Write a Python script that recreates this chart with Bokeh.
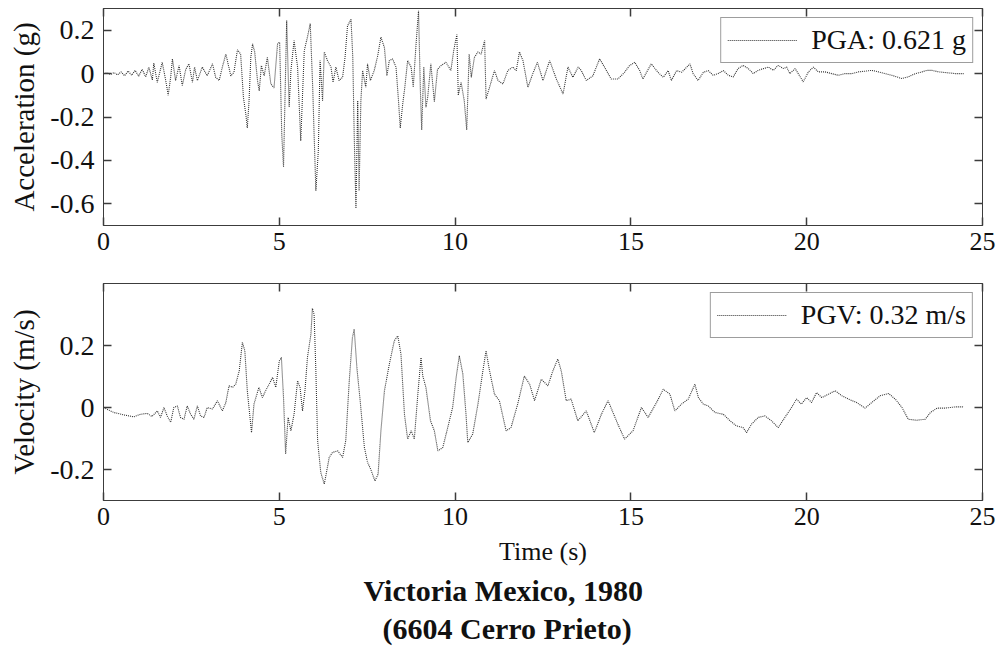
from bokeh.plotting import figure
from bokeh.models import (Range1d, FixedTicker, LinearAxis, Legend, LegendItem, Title,
                          ColumnDataSource, CustomLabelingPolicy)
from bokeh.layouts import column
from bokeh.embed import file_html
from bokeh.resources import INLINE

# ---------------- data ----------------
t_acc = [
    0.00, 0.10, 0.20, 0.30, 0.40, 0.50, 0.60, 0.70, 0.80, 0.90,
    1.00, 1.10, 1.20, 1.29, 1.39, 1.43, 1.53, 1.67, 1.77, 1.84,
    1.91, 1.96, 2.05, 2.15, 2.24, 2.34, 2.43, 2.53, 2.59, 2.67,
    2.81, 2.95, 3.10, 3.19, 3.29, 3.38, 3.48, 3.62, 3.71, 3.81,
    3.90, 3.98, 4.05, 4.09, 4.14, 4.19, 4.24, 4.30, 4.38, 4.43,
    4.49, 4.57, 4.66, 4.76, 4.85, 4.95, 5.01, 5.07, 5.12, 5.21,
    5.28, 5.33, 5.42, 5.52, 5.61, 5.71, 5.80, 5.88, 5.95, 5.99,
    6.04, 6.11, 6.16, 6.23, 6.28, 6.37, 6.47, 6.53, 6.61, 6.70,
    6.80, 6.87, 6.94, 7.04, 7.09, 7.13, 7.18, 7.23, 7.27, 7.32,
    7.37, 7.46, 7.51, 7.59, 7.70, 7.80, 7.89, 7.99, 8.06, 8.13,
    8.22, 8.32, 8.39, 8.44, 8.51, 8.57, 8.65, 8.75, 8.81, 8.89,
    8.96, 9.01, 9.05, 9.11, 9.17, 9.22, 9.31, 9.41, 9.50, 9.60,
    9.74, 9.88, 9.96, 10.05, 10.09, 10.17, 10.26, 10.33, 10.40, 10.46,
    10.55, 10.65, 10.74, 10.84, 10.88, 10.98, 11.12, 11.22, 11.36, 11.50,
    11.64, 11.74, 11.83, 11.93, 12.07, 12.21, 12.34, 12.50, 12.69, 12.88,
    13.07, 13.21, 13.35, 13.50, 13.59, 13.73, 13.92, 14.11, 14.25, 14.44,
    14.63, 14.82, 14.96, 15.11, 15.25, 15.34, 15.58, 15.77, 15.92, 16.06,
    16.15, 16.30, 16.44, 16.53, 16.68, 16.77, 16.91, 17.06, 17.20, 17.34,
    17.48, 17.63, 17.77, 17.91, 18.05, 18.19, 18.34, 18.48, 18.62, 18.77,
    18.91, 19.05, 19.19, 19.34, 19.43, 19.52, 19.67, 19.76, 19.90, 20.05,
    20.19, 20.33, 20.52, 20.71, 20.90, 21.09, 21.28, 21.47, 21.66, 21.85,
    22.04, 22.23, 22.42, 22.56, 22.70, 22.89, 23.09, 23.28, 23.42, 23.56,
    23.75, 23.94, 24.23, 24.47,
]
acc_g = [
    0.000, 0.003, -0.004, 0.005, -0.006, 0.008, -0.010, 0.012, -0.008, 0.015,
    -0.012, 0.020, -0.015, 0.030, -0.030, 0.048, -0.040, 0.052, -0.032, -0.100,
    -0.017, 0.068, -0.032, 0.037, -0.055, 0.020, 0.045, -0.040, 0.030, -0.032,
    0.030, -0.010, 0.045, -0.017, -0.032, 0.030, 0.090, -0.010, 0.006, 0.110,
    0.090, -0.110, -0.190, -0.250, -0.125, 0.075, 0.137, 0.100, -0.032, -0.080,
    0.037, -0.010, 0.075, -0.048, -0.066, 0.137, 0.145, -0.280, -0.430, 0.245,
    -0.155, 0.014, 0.152, 0.030, -0.310, 0.106, 0.168, 0.230, -0.063, -0.280,
    -0.540, -0.355, 0.060, -0.125, 0.100, 0.060, 0.030, -0.040, 0.030, -0.032,
    -0.017, 0.075, 0.220, 0.250, 0.075, -0.280, -0.621, -0.125, -0.540, -0.125,
    0.014, -0.063, 0.045, -0.032, 0.014, 0.083, 0.168, 0.120, -0.010, 0.060,
    0.068, 0.030, -0.125, -0.250, -0.140, -0.063, 0.060, 0.030, -0.063, 0.137,
    0.290, -0.063, -0.260, 0.030, -0.155, -0.110, 0.045, -0.130, 0.020, 0.037,
    0.052, 0.014, 0.106, 0.180, -0.100, -0.040, -0.125, -0.260, 0.090, -0.017,
    0.075, 0.100, 0.090, 0.152, -0.117, -0.063, 0.014, -0.032, -0.048, 0.014,
    0.030, 0.014, 0.100, 0.060, -0.063, 0.000, 0.052, -0.032, 0.060, -0.025,
    -0.094, 0.030, -0.017, 0.030, 0.014, -0.032, -0.010, 0.068, 0.030, -0.025,
    -0.025, 0.006, 0.037, 0.052, 0.014, -0.025, 0.045, 0.006, -0.017, 0.014,
    -0.032, 0.014, 0.006, 0.020, 0.045, 0.000, -0.032, 0.006, 0.014, -0.008,
    0.000, 0.014, -0.008, -0.015, 0.023, 0.038, 0.023, 0.000, 0.015, 0.023,
    0.030, 0.015, 0.038, 0.023, 0.030, 0.000, 0.023, 0.000, -0.038, 0.008,
    0.030, 0.008, 0.008, 0.000, -0.008, 0.000, 0.000, 0.008, 0.011, 0.015,
    0.008, 0.000, -0.008, -0.015, -0.023, -0.015, 0.000, 0.008, 0.015, 0.015,
    0.008, 0.005, 0.000, 0.000,
]

t_vel = [
    0.00, 0.29, 0.58, 0.86, 1.05, 1.24, 1.38, 1.53, 1.62, 1.72,
    1.81, 1.91, 2.00, 2.10, 2.19, 2.29, 2.38, 2.48, 2.57, 2.67,
    2.76, 2.86, 2.95, 3.10, 3.24, 3.38, 3.48, 3.57, 3.67, 3.76,
    3.86, 3.95, 4.02, 4.09, 4.21, 4.28, 4.42, 4.52, 4.61, 4.71,
    4.81, 4.90, 5.00, 5.06, 5.12, 5.18, 5.25, 5.33, 5.42, 5.52,
    5.59, 5.66, 5.73, 5.80, 5.90, 5.94, 5.99, 6.04, 6.09, 6.18,
    6.28, 6.42, 6.51, 6.66, 6.80, 6.89, 6.99, 7.08, 7.13, 7.21,
    7.30, 7.42, 7.51, 7.60, 7.72, 7.81, 7.89, 7.99, 8.13, 8.27,
    8.37, 8.46, 8.56, 8.65, 8.75, 8.84, 8.94, 9.03, 9.08, 9.17,
    9.30, 9.41, 9.51, 9.65, 9.79, 9.93, 10.03, 10.12, 10.22, 10.31,
    10.36, 10.50, 10.65, 10.79, 10.88, 10.98, 11.12, 11.26, 11.45, 11.59,
    11.78, 11.97, 12.12, 12.26, 12.45, 12.64, 12.78, 12.92, 13.02, 13.16,
    13.30, 13.49, 13.73, 13.96, 14.16, 14.35, 14.63, 14.82, 15.06, 15.30,
    15.49, 15.73, 15.92, 16.11, 16.25, 16.44, 16.63, 16.82, 16.92, 17.06,
    17.20, 17.39, 17.63, 17.82, 18.00, 18.19, 18.29, 18.43, 18.62, 18.81,
    19.00, 19.19, 19.38, 19.57, 19.71, 19.85, 20.00, 20.14, 20.28, 20.43,
    20.62, 20.81, 21.00, 21.19, 21.42, 21.66, 21.85, 22.09, 22.33, 22.52,
    22.71, 22.89, 23.13, 23.37, 23.52, 23.71, 23.94, 24.23, 24.47,
]
vel_ms = [
    0.000, -0.016, -0.024, -0.030, -0.022, -0.019, -0.029, -0.011, -0.032, 0.000,
    -0.027, -0.048, 0.000, 0.005, -0.032, -0.038, 0.005, -0.022, -0.038, 0.005,
    -0.027, -0.032, 0.000, -0.005, 0.022, -0.011, 0.016, 0.070, 0.065, 0.075,
    0.118, 0.210, 0.183, 0.054, -0.081, 0.011, 0.065, 0.032, 0.054, 0.075,
    0.097, 0.065, 0.150, 0.161, 0.032, -0.150, -0.032, -0.075, -0.022, 0.086,
    0.065, -0.011, 0.054, 0.161, 0.237, 0.320, 0.300, 0.118, -0.107, -0.210,
    -0.247, -0.161, -0.145, -0.140, -0.161, -0.107, 0.086, 0.226, 0.253, 0.124,
    0.022, -0.129, -0.177, -0.199, -0.237, -0.215, -0.075, 0.054, 0.140, 0.215,
    0.231, 0.172, -0.022, -0.102, -0.075, -0.102, 0.043, 0.161, 0.102, 0.065,
    -0.043, -0.075, -0.140, -0.129, -0.065, 0.000, 0.097, 0.167, 0.108, -0.022,
    -0.113, -0.086, 0.011, 0.118, 0.183, 0.118, 0.043, 0.022, -0.075, -0.065,
    0.011, 0.102, 0.075, 0.022, 0.091, 0.070, 0.118, 0.156, 0.118, 0.022,
    0.027, -0.043, -0.011, -0.081, -0.022, 0.022, -0.054, -0.102, -0.075, 0.000,
    -0.032, 0.016, 0.059, 0.043, -0.011, 0.011, 0.027, 0.075, 0.032, 0.011,
    0.005, -0.016, -0.022, -0.043, -0.059, -0.065, -0.081, -0.054, -0.032, -0.027,
    -0.043, -0.065, -0.032, 0.000, 0.027, 0.011, 0.032, 0.016, 0.048, 0.032,
    0.043, 0.054, 0.038, 0.027, 0.016, -0.002, 0.016, 0.038, 0.045, 0.027,
    0.000, -0.038, -0.041, -0.038, -0.016, -0.002, -0.002, 0.002, 0.002,
]

x_ticks = [0, 5, 10, 15, 20, 25]
x_tick_labels = ["0", "5", "10", "15", "20", "25"]
acc_ticks = [-0.6, -0.4, -0.2, 0, 0.2]
acc_tick_labels = ["-0.6", "-0.4", "-0.2", "0", "0.2"]
vel_ticks = [-0.2, 0, 0.2]
vel_tick_labels = ["-0.2", "0", "0.2"]
pga_label = "PGA: 0.621 g"
pgv_label = "PGV: 0.32 m/s"
acc_axis_label = "Acceleration (g)"
vel_axis_label = "Velocity (m/s)"
time_axis_label = "Time (s)"
title_line1 = "Victoria Mexico, 1980"
title_line2 = "(6604 Cerro Prieto)"

assert len(t_acc) == len(acc_g)
assert len(t_vel) == len(vel_ms)

# ---------------- styling ----------------
FONT = "Liberation Serif"
AX_COLOR = "#3c3c3c"
TEXT_COLOR = "#111111"
TRACE_COLOR = "#333333"

NO_LABELS = CustomLabelingPolicy(code="return new Set()")


def style_axis(ax, ticks, labels, font_px="26px", show_labels=True):
    ax.ticker = FixedTicker(ticks=ticks)
    ax.major_tick_in = 8
    ax.major_tick_out = 0
    ax.minor_tick_in = 0
    ax.minor_tick_out = 0
    ax.major_tick_line_color = AX_COLOR
    ax.major_tick_line_width = 1.5
    ax.axis_line_color = AX_COLOR
    ax.axis_line_width = 1
    if show_labels:
        ax.major_label_overrides = {float(v): s for v, s in zip(ticks, labels)}
        ax.major_label_text_font = FONT
        ax.major_label_text_font_size = font_px
        ax.major_label_text_color = TEXT_COLOR
    else:
        ax.major_label_policy = CustomLabelingPolicy(code="return new Set()")
        ax.major_label_text_font_size = "1px"
        ax.major_label_standoff = 0


def make_panel(height, y_lo, y_hi, yticks, ylabels, ylabel, btop, bbottom, t, y, leg_label):
    p = figure(width=1004, height=height,
               x_range=Range1d(0, 25), y_range=Range1d(y_lo, y_hi),
               output_backend="svg", toolbar_location=None,
               min_border_left=103, min_border_right=22,
               min_border_top=btop, min_border_bottom=bbottom)
    p.grid.visible = False
    p.outline_line_color = AX_COLOR
    p.background_fill_color = "white"
    p.border_fill_color = "white"

    xa = p.xaxis[0]
    style_axis(xa, x_ticks, x_tick_labels, "26px")
    xa.major_label_standoff = 7
    ya = p.yaxis[0]
    style_axis(ya, yticks, ylabels, "28px")
    ya.major_label_standoff = 9
    ya.axis_label = ylabel
    ya.axis_label_text_font = FONT
    ya.axis_label_text_font_size = "29px"
    ya.axis_label_text_font_style = "normal"
    ya.axis_label_text_color = TEXT_COLOR
    ya.axis_label_standoff = 7

    top = LinearAxis()
    style_axis(top, x_ticks, x_tick_labels, show_labels=False)
    p.add_layout(top, "above")
    right = LinearAxis()
    style_axis(right, yticks, ylabels, show_labels=False)
    p.add_layout(right, "right")

    src = ColumnDataSource(dict(t=t, y=y))
    r = p.line("t", "y", source=src, line_color=TRACE_COLOR, line_width=1.1, line_dash="1 1")

    leg = Legend(items=[LegendItem(label=leg_label, renderers=[r])],
                 location="top_right", margin=9, padding=6,
                 glyph_width=70, glyph_height=20, label_standoff=14,
                 label_text_font=FONT, label_text_font_size="28px",
                 label_text_color=TEXT_COLOR,
                 border_line_color=AX_COLOR, border_line_width=1,
                 background_fill_color="white", background_fill_alpha=1)
    p.add_layout(leg)
    return p, xa


p1, xa1 = make_panel(265, -0.7, 0.3, acc_ticks, acc_tick_labels, acc_axis_label,
                     8, 40, t_acc, acc_g, pga_label)
p2, xa2 = make_panel(385, -0.3, 0.4, vel_ticks, vel_tick_labels, vel_axis_label,
                     18, 150, t_vel, vel_ms, pgv_label)

xa2.axis_label = time_axis_label
xa2.axis_label_text_font = FONT
xa2.axis_label_text_font_size = "26px"
xa2.axis_label_text_font_style = "normal"
xa2.axis_label_text_color = TEXT_COLOR
xa2.axis_label_standoff = 9

for txt, off, so in ((title_line1, 260, 6), (title_line2, 279, 0)):
    ttl = Title(text=txt, align="left", offset=off,
                text_font=FONT, text_font_size="30px", text_font_style="bold",
                text_color=TEXT_COLOR, standoff=so)
    p2.add_layout(ttl, "below")

layout = column(p1, p2, spacing=0)
open("out.html", "w").write(file_html(layout, INLINE))
